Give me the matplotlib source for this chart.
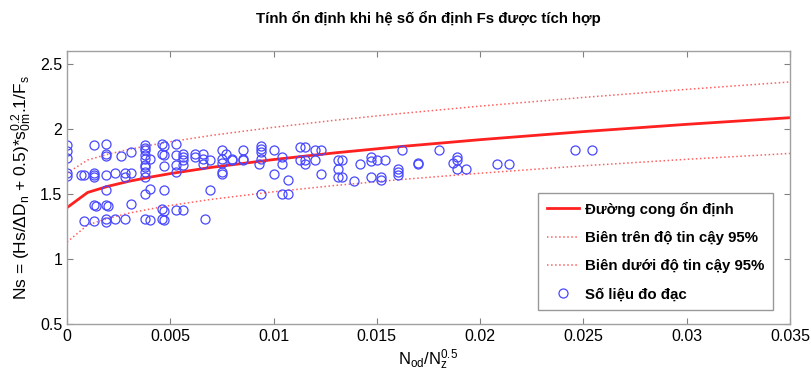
import matplotlib
matplotlib.use("Agg")
import matplotlib.pyplot as plt

plt.rcParams['font.family'] = ['Liberation Sans', 'DejaVu Sans']
plt.rcParams['mathtext.default'] = 'regular'

title = "Tính ổn định khi hệ số ổn định Fs được tích hợp"
legend_labels = ["Đường cong ổn định", "Biên trên độ tin cậy 95%",
                 "Biên dưới độ tin cậy 95%", "Số liệu đo đạc"]

curve_x = [0, 0.001, 0.002, 0.003, 0.004, 0.005, 0.007, 0.010, 0.013,
           0.016, 0.020, 0.025, 0.030, 0.035]
curve_mid = [1.395, 1.512, 1.560, 1.598, 1.629, 1.657, 1.705, 1.765, 1.817,
             1.863, 1.918, 1.980, 2.036, 2.087]
curve_up = [1.660, 1.762, 1.807, 1.843, 1.874, 1.902, 1.951, 2.013, 2.068,
            2.117, 2.176, 2.243, 2.305, 2.362]
curve_lo = [1.130, 1.262, 1.313, 1.353, 1.384, 1.412, 1.459, 1.517, 1.566,
            1.609, 1.660, 1.717, 1.767, 1.812]

data_x = [
    0, 0, 0, 0, 0,
    0.0007, 0.0008, 0.0008,
    0.0013, 0.0013, 0.0013, 0.0013, 0.0013, 0.0014, 0.0013,
    0.0019, 0.0019, 0.0019, 0.0019, 0.0019, 0.0019, 0.0020, 0.0019, 0.0019,
    0.0023, 0.0023, 0.0026, 0.0028, 0.0028, 0.0028,
    0.0031, 0.0031, 0.0031,
    0.0038, 0.0038, 0.0038, 0.0038, 0.0038, 0.0038, 0.0038, 0.0038, 0.0038, 0.0038, 0.0038,
    0.0040, 0.0040, 0.0040,
    0.0046, 0.0047, 0.0046, 0.0047, 0.0047, 0.0047, 0.0046, 0.0047, 0.0046, 0.0047,
    0.0053, 0.0053, 0.0053, 0.0053, 0.0053,
    0.0056, 0.0056, 0.0056, 0.0056, 0.0056,
    0.0062, 0.0062,
    0.0066, 0.0066, 0.0066, 0.0067,
    0.0069, 0.0069,
    0.0075, 0.0075, 0.0075, 0.0075, 0.0075, 0.0077,
    0.0080, 0.0080,
    0.0085, 0.0085, 0.0085,
    0.0093, 0.0094, 0.0094, 0.0094, 0.0094, 0.0094,
    0.0100, 0.0100,
    0.0104, 0.0104, 0.0104,
    0.0107, 0.0107,
    0.0113, 0.0113, 0.0115, 0.0115, 0.0115,
    0.0120, 0.0120, 0.0123, 0.0123,
    0.0131, 0.0131, 0.0131, 0.0133, 0.0133,
    0.0139, 0.0142,
    0.0147, 0.0147, 0.0147, 0.0150, 0.0152, 0.0152, 0.0154,
    0.0160, 0.0160, 0.0160, 0.0162,
    0.0170, 0.0170,
    0.0180,
    0.0187, 0.0189, 0.0189, 0.0189, 0.0193,
    0.0208, 0.0214,
    0.0246, 0.0254,
]
data_y = [
    1.875, 1.83, 1.78, 1.665, 1.64,
    1.65, 1.65, 1.29,
    1.875, 1.66, 1.645, 1.63, 1.418, 1.41, 1.289,
    1.883, 1.81, 1.79, 1.644, 1.528, 1.418, 1.41, 1.305, 1.284,
    1.662, 1.305, 1.793, 1.664, 1.631, 1.305,
    1.824, 1.664, 1.42,
    1.875, 1.857, 1.837, 1.798, 1.767, 1.721, 1.708, 1.67, 1.631, 1.497, 1.31,
    1.772, 1.536, 1.297,
    1.883, 1.868, 1.811, 1.798, 1.713, 1.533, 1.387, 1.369, 1.31, 1.297,
    1.883, 1.798, 1.721, 1.67, 1.379,
    1.811, 1.785, 1.76, 1.721, 1.379,
    1.811, 1.785,
    1.811, 1.772, 1.734, 1.31,
    1.76, 1.533,
    1.842, 1.772, 1.739, 1.67, 1.657, 1.811,
    1.772, 1.76,
    1.842, 1.772, 1.76,
    1.734, 1.868, 1.85, 1.824, 1.772, 1.503,
    1.837, 1.657,
    1.785, 1.734, 1.503,
    1.605, 1.503,
    1.862, 1.76, 1.862, 1.76, 1.734,
    1.837, 1.76, 1.837, 1.657,
    1.76, 1.696, 1.631, 1.76, 1.631,
    1.60, 1.734,
    1.785, 1.754, 1.631, 1.76, 1.631, 1.605, 1.76,
    1.696, 1.67, 1.644, 1.837,
    1.739, 1.729,
    1.837,
    1.739, 1.785, 1.76, 1.696, 1.696,
    1.729, 1.729,
    1.837, 1.837,
]

fig = plt.figure(figsize=(8.11, 3.74), dpi=100)
ax = fig.add_axes([0.0826, 0.1337, 0.8915, 0.7299])

ax.plot(curve_x, curve_mid, color='#ff2020', lw=2.0, label=legend_labels[0])
ax.plot(curve_x, curve_up, color='#ff6060', lw=1.1, ls=':', label=legend_labels[1])
ax.plot(curve_x, curve_lo, color='#ff6060', lw=1.1, ls=':', label=legend_labels[2])
ax.plot(data_x, data_y, ls='none', marker='o', ms=6.5, mfc='none',
        mec='#4848ff', mew=0.9, label=legend_labels[3])

ax.set_xlim(0, 0.035)
ax.set_ylim(0.5, 2.6)
ax.set_xticks([0, 0.005, 0.01, 0.015, 0.02, 0.025, 0.03, 0.035])
ax.set_xticklabels(['0', '0.005', '0.01', '0.015', '0.02', '0.025', '0.03', '0.035'])
ax.set_yticks([0.5, 1, 1.5, 2, 2.5])
ax.set_yticklabels(['0.5', '1', '1.5', '2', '2.5'])
ax.tick_params(direction='in', top=True, right=True, labelsize=11.5,
               color='#808080', length=4)
for s in ax.spines.values():
    s.set_color('#a0a0a0')
    s.set_linewidth(1.0)

ax.set_title(title, fontsize=10.8, fontweight='bold', pad=20)
ax.set_ylabel(r'Ns = (Hs/$\Delta$D$_n$ + 0.5)*s$_{0m}^{0.2}$.1/F$_s$', fontsize=12.5,
              labelpad=4)
ax.set_xlabel(r'N$_{od}$/N$_z^{0.5}$', fontsize=12, labelpad=3)

leg = ax.legend(loc='lower right', bbox_to_anchor=(0.977, 0.05),
                prop={'weight': 'bold', 'size': 10.8}, frameon=True, fancybox=False,
                edgecolor='#808080', borderpad=0.6, labelspacing=0.95,
                handlelength=2.1, handletextpad=0.4, borderaxespad=0.0)
leg.get_frame().set_linewidth(1.0)

fig.savefig('out.png', dpi=100)
